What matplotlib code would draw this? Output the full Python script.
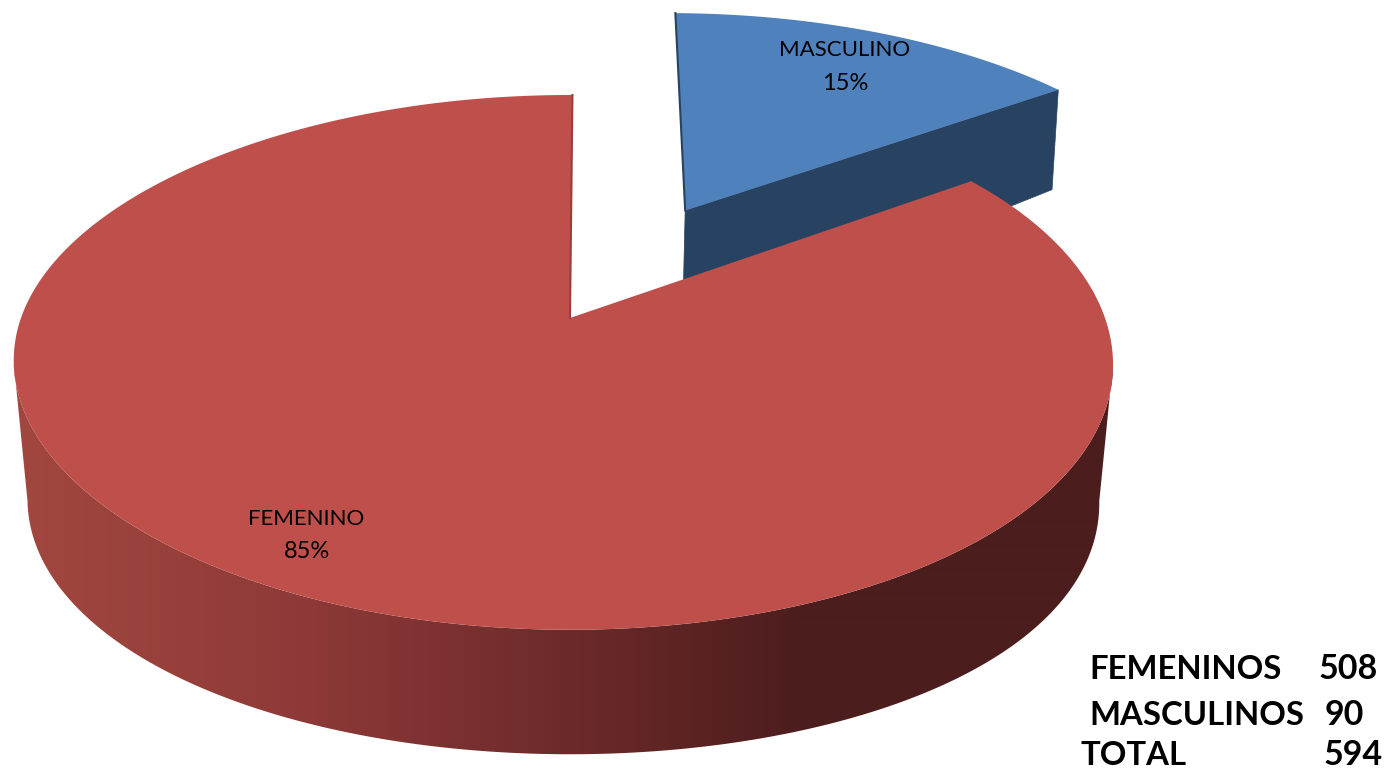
import numpy as np
from matplotlib import pyplot as plt
from matplotlib.patches import Polygon
from matplotlib.colors import to_rgb

# pie data
categories = ["FEMENINO", "MASCULINO"]
percents = [85, 15]
pct_labels = ["85%", "15%"]

# table bottom right
table_names = ["FEMENINOS", "MASCULINOS", "TOTAL"]
table_counts = ["508", "90", "594"]

# look of the 3d pie, all in pixels
APEX_X, APEX_Y = 570, 318
SCALE_X, SCALE_Y = 542, 260
PERSP = 0.166
START = 0.8
RED_START = 0.3
EXPLODE = 0.502
RED_SKEW = 7
BLUE_RADIUS = 1.012
RED, RED_EDGE = "#BE4F4B", "#963F3C"
BLUE, BLUE_WALL = "#4F81BD", "#284362"

shade_x = [20, 300, 560, 800, 1120]
shade_col = ["#A2473F", "#8E3A38", "#6E2A2B", "#4C1D1D", "#4C1D1D"]
shade_rgb = np.array([to_rgb(c) for c in shade_col])


def top_xy(u, v):
    w = 1 + PERSP * v
    return APEX_X + SCALE_X * u / w, APEX_Y - SCALE_Y * v / w


def bottom_xy(u, v):
    # lower face is a bit narrower, wall height fitted at back, sides and front
    x, y = top_xy(u, v)
    return APEX_X + (x - APEX_X) * 0.975, y + 137 - 11.5 * v - 24 * v ** 2


def arc(a0, a1, off=(0, 0), r=1.0, n=300):
    t = np.radians(np.linspace(a0, a1, n))
    return r * np.sin(t) + off[0], r * np.cos(t) + off[1]


fig = plt.figure(figsize=(13.88, 7.7), dpi=100)
ax = fig.add_axes([0, 0, 1, 1])
ax.axis("off")

# slices run clockwise from the top, male first
angle_m = 360 * percents[1] / sum(percents)
mid = np.radians(START + angle_m / 2)
off_m = (EXPLODE * np.sin(mid), EXPLODE * np.cos(mid))

# blue slice: cut face, then top. -3 lines it up with the reference
u_m, v_m = arc(START, START + angle_m, off_m, r=BLUE_RADIUS)
mx, my = top_xy(u_m, v_m)
mx = mx - 3
bx, by = bottom_xy(u_m, v_m)
apex_t = np.array(top_xy(*off_m)) - (3, 0)
apex_b = np.array(bottom_xy(*off_m)) - (3, 0)
ax.add_patch(Polygon([apex_t, (mx[-1], my[-1]), (bx[-1] + 3, by[-1]), apex_b],
                     fc=BLUE_WALL, ec=BLUE_WALL, lw=0.5, zorder=1))
ax.add_patch(Polygon(np.vstack([[apex_t], np.c_[mx, my]]), fc=BLUE, ec="none", zorder=2))
ax.plot([apex_t[0], mx[0]], [apex_t[1], my[0]], color=BLUE_WALL, lw=1.5, zorder=2)

# red slice: outer wall with a gradient in x, then top
u_f, v_f = arc(START + angle_m, 360 + RED_START, n=900)
xt, yt = top_xy(u_f, v_f)
xb, yb = bottom_xy(u_f, v_f)
skew = RED_SKEW * u_f ** 4
xt, xb = xt - skew, xb - skew
front = v_f < -PERSP
wall = Polygon(np.vstack([np.c_[xt[front], yt[front]], np.c_[xb[front], yb[front]][::-1]]),
               fc="none", ec="none", zorder=3)
ax.add_patch(wall)
grad_x = np.arange(0, 1200)
grad = np.stack([np.interp(grad_x, shade_x, shade_rgb[:, k]) for k in range(3)], axis=-1)[None, :, :]
im = ax.imshow(grad, extent=(0, 1200, 770, 0), aspect="auto", zorder=3, interpolation="bilinear")
im.set_clip_path(wall)
ax.add_patch(Polygon(np.vstack([[(APEX_X, APEX_Y)], np.c_[xt, yt]]), fc=RED, ec="none", zorder=4))
ax.plot([xt[-1], APEX_X], [yt[-1], APEX_Y], color=RED_EDGE, lw=1.5, zorder=4)

# slice labels
ax.text(306, 519, categories[0], fontsize=16, family="Lato", ha="center", va="center", color="black", zorder=5)
ax.text(307, 551, pct_labels[0], fontsize=17, family="Lato", ha="center", va="center", color="black", zorder=5)
ax.text(845, 50, categories[1], fontsize=16, family="Lato", ha="center", va="center", color="black", zorder=5)
ax.text(845, 83, pct_labels[1], fontsize=17, family="Lato", ha="center", va="center", color="black", zorder=5)

# counts
name_x = [1089, 1089, 1081]
count_x = [1319, 1325, 1324]
row_y = [679, 725, 765]
for i in range(3):
    ax.text(name_x[i], row_y[i], table_names[i], fontsize=23.7, family="Lato", weight="bold", ha="left", va="baseline")
    ax.text(count_x[i], row_y[i], table_counts[i], fontsize=24.5, family="Lato", weight="bold", ha="left", va="baseline")

ax.set_xlim(0, 1388)
ax.set_ylim(770, 0)
fig.savefig("out.png", dpi=100, facecolor="white")
